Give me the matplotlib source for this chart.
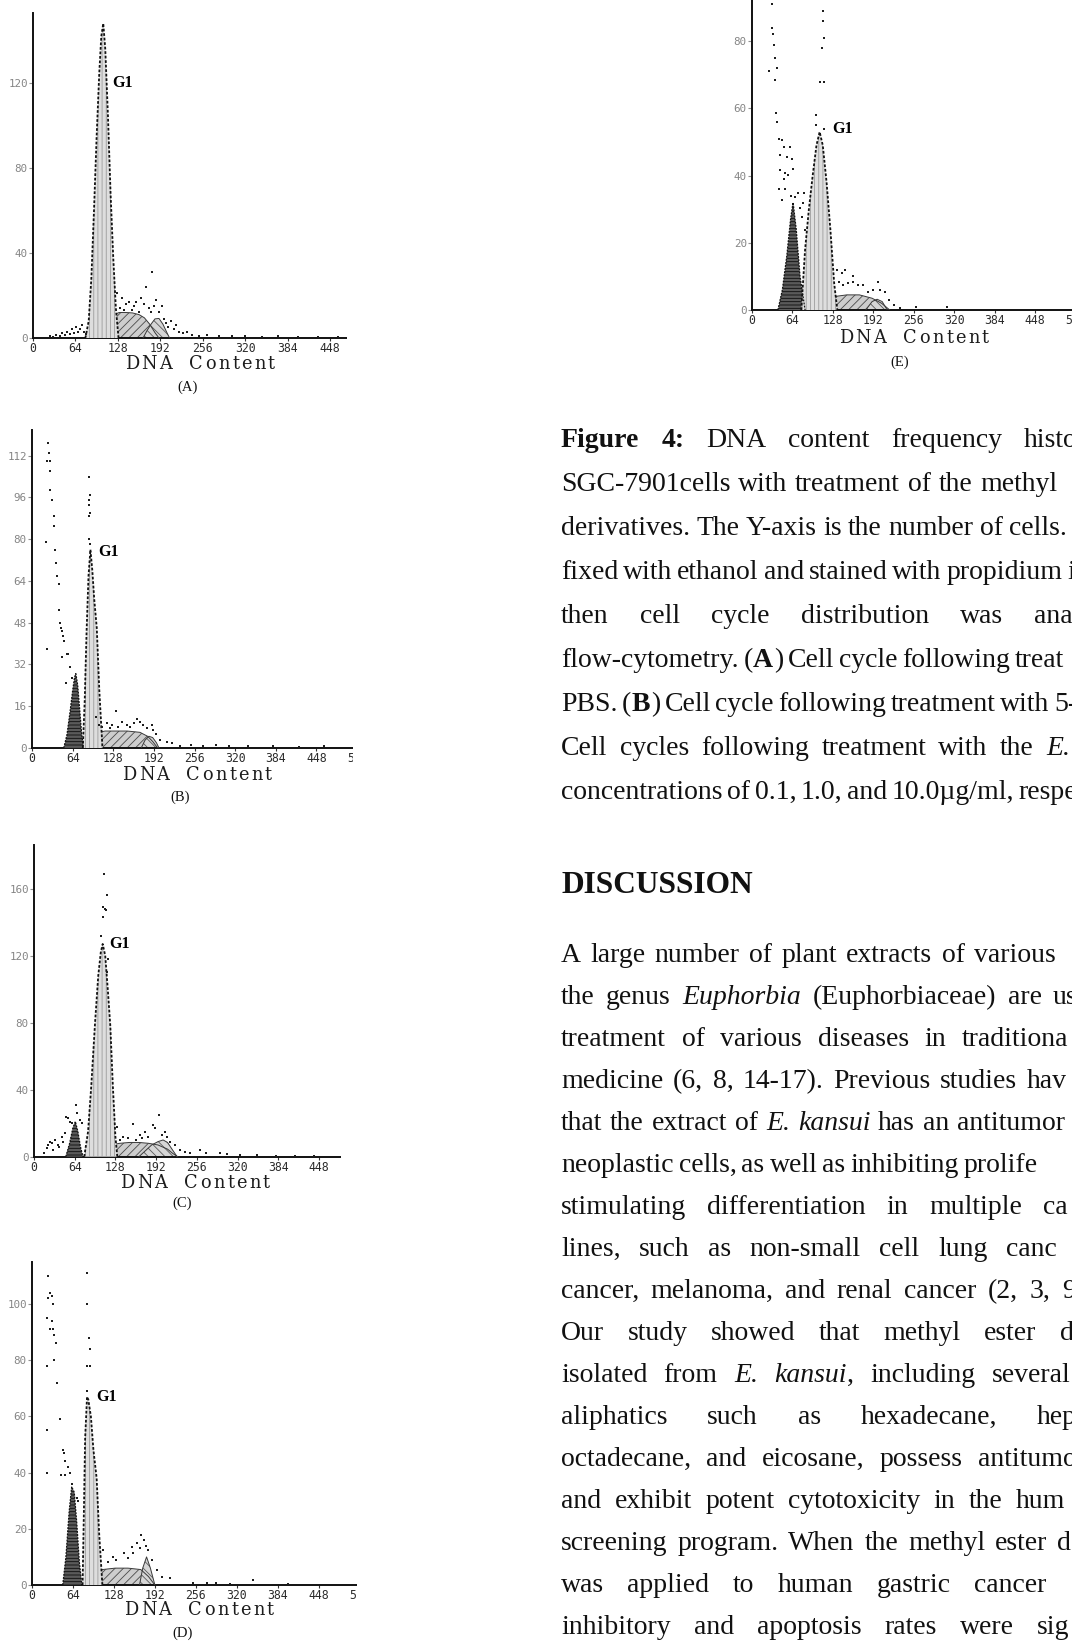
import re
import matplotlib
matplotlib.use("Agg")
import matplotlib.pyplot as plt
from matplotlib.patches import Rectangle

W, H = 1072, 1642

# ---------------- values ----------------
x_ticks = [0, 64, 128, 192, 256, 320, 384, 448, 512]

# (A) PBS control
yticks_A = [0, 40, 80, 120]
g1_x_A = [79, 84, 88, 92, 96, 100, 103, 106, 109, 113, 117, 121, 125, 129]
g1_y_A = [0, 8, 28, 60, 95, 125, 142, 148, 136, 105, 68, 38, 14, 0]
s_x_A = [98, 106, 114, 122, 130, 140, 150, 160, 168, 176, 184, 190]
s_y_A = [0, 4, 8.5, 11, 12, 12, 11.8, 11, 9.5, 6.5, 2.5, 0]
g2_x_A = [166, 172, 178, 184, 190, 196, 202, 206]
g2_y_A = [0, 3.5, 6.5, 9, 9.2, 6.5, 2.5, 0]
dots_A = [(26, 1), (30, 0.5), (35, 1.5), (40, 1), (44, 2.5), (48, 1.5), (52, 3), (56, 2),
          (59, 4), (62, 2.5), (65, 5), (68, 3), (71, 4), (74, 6), (77, 3), (80, 2),
          (127, 21), (131, 14), (134, 19), (138, 13), (141, 16), (145, 17), (149, 13),
          (152, 15), (156, 17), (160, 12), (163, 19), (167, 16), (171, 24), (175, 14),
          (178, 12), (180, 31), (183, 15), (186, 18), (190, 12), (194, 15), (197, 9),
          (200, 7), (204, 5), (208, 8), (212, 4), (216, 6), (220, 3), (226, 2.5), (232, 3),
          (240, 1.5), (250, 1), (262, 1.5), (280, 0.8), (300, 1), (320, 0.8), (345, 0.6),
          (370, 0.8), (400, 0.5), (430, 0.7), (460, 0.5), (490, 0.6)]

# (B) 5-FU
yticks_B = [0, 16, 32, 48, 64, 80, 96, 112]
apo_x_B = [50, 55, 60, 64, 67, 69, 72, 75, 78, 81]
apo_y_B = [0, 5, 14, 22, 27, 28.5, 24, 15, 6, 0]
g1_x_B = [80, 83, 86, 89, 92, 95, 98, 102, 106, 111]
g1_y_B = [0, 18, 45, 66, 76, 68, 57, 46, 22, 0]
s_x_B = [90, 98, 106, 115, 130, 150, 170, 182, 190, 198]
s_y_B = [0, 4, 6, 6.5, 6.5, 6.5, 6, 4.5, 2.5, 0]
g2_x_B = [172, 178, 184, 190, 196, 200]
g2_y_B = [0, 3, 4.5, 4, 2, 0]
dots_B = [(25, 117), (27, 113), (24, 110), (28, 110), (28, 106), (29, 99), (31, 95), (34, 89),
          (35, 85), (22, 79), (36, 76), (38, 71), (40, 66), (42, 63), (43, 53), (44, 48),
          (45, 46), (47, 45), (49, 43), (50, 41), (48, 35), (55, 36), (57, 36), (23, 38),
          (60, 31), (63, 27), (53, 25),
          (90, 104), (89, 95), (91, 97), (89, 93), (92, 90), (90, 89), (90, 80), (91, 78),
          (100, 12), (105, 9), (110, 8), (118, 9.5), (123, 7.5), (126, 9), (132, 14), (136, 8),
          (142, 10), (149, 9), (155, 8), (160, 9.5), (165, 11), (170, 10), (175, 9), (181, 7.5),
          (189, 9), (191, 7), (196, 5.5), (202, 3), (212, 2.4), (220, 1.8), (233, 0.6),
          (250, 1), (270, 0.8), (290, 1), (310, 0.6), (340, 0.8), (380, 0.6), (420, 0.5),
          (460, 0.6)]

# (C) 0.1 ug/ml
yticks_C = [0, 40, 80, 120, 160]
apo_x_C = [50, 56, 61, 65, 69, 73, 77]
apo_y_C = [0, 8, 17, 21, 15, 6, 0]
g1_x_C = [79, 85, 90, 96, 101, 105, 108, 112, 116, 120, 124, 128, 131]
g1_y_C = [0, 15, 42, 80, 108, 122, 127, 120, 100, 78, 42, 12, 0]
s_x_C = [90, 100, 110, 120, 135, 150, 165, 180, 195, 210, 218, 226]
s_y_C = [0, 3, 5.5, 7, 8, 8.5, 8.5, 8, 7, 4.5, 2, 0]
g2_x_C = [165, 175, 185, 195, 203, 210, 217, 225]
g2_y_C = [0, 3.5, 7, 9, 10, 8.5, 4.5, 0]
dots_C = [(15, 2), (20, 5), (22.5, 7), (25, 9), (28, 8), (30, 4), (33, 10), (37, 7), (40, 6),
          (43.5, 12), (46, 9), (49, 14), (51, 24), (54, 23), (57, 21), (59, 20), (66, 31),
          (68, 26), (72, 22), (75, 20),
          (110.6, 169), (114, 156), (109, 149), (111.6, 148), (109, 143), (113, 147),
          (105, 132), (114, 110), (117, 118),
          (130, 18), (135, 10), (140, 12), (148, 11), (156, 19.5), (160, 10), (167, 13),
          (170, 11), (174.5, 15), (180, 12), (187.6, 19), (190, 17), (197, 25), (201, 13),
          (206, 15), (209, 12), (214, 9), (222, 7), (230, 4), (237, 3), (245, 2.4), (261, 4),
          (271, 2), (292, 2), (303, 1.4), (324, 1), (350, 0.8), (380, 0.6), (410, 0.7),
          (440, 0.5)]

# (D) 1.0 ug/ml
yticks_D = [0, 20, 40, 60, 80, 100]
apo_x_D = [48, 53, 58, 62, 66, 70, 74, 78]
apo_y_D = [0, 10, 26, 35, 33, 22, 8, 0]
g1_x_D = [79, 81, 83, 86, 88, 92, 96, 101, 105, 110]
g1_y_D = [0, 25, 52, 67, 66, 60, 48, 38, 18, 0]
s_x_D = [84, 95, 110, 130, 150, 170, 182, 192]
s_y_D = [0, 4, 5.5, 6, 6, 5.5, 3, 0]
g2_x_D = [168, 173, 179, 185, 192]
g2_y_D = [0, 6, 10, 6, 0]
dots_D = [(25.5, 110), (28, 104), (25.5, 102), (31, 103), (33, 100), (24, 95), (31, 94),
          (28, 91), (33, 91), (34, 89), (37.5, 86), (34, 80), (24, 78), (39.6, 72), (43, 59),
          (24, 55), (48, 48), (50, 47), (51.6, 44), (57, 42), (59, 40), (45, 39), (24, 40),
          (52, 39), (62, 36), (70, 31), (72, 30),
          (86.5, 111), (85.4, 100), (89, 88), (90.6, 84), (85.4, 78), (90.6, 78), (85.4, 69),
          (111.5, 12.5), (119, 8.3), (127, 10), (132, 9), (143, 11.3), (150.5, 9.5),
          (156, 13.6), (158, 11.3), (163.5, 14.8), (168, 13), (171, 17.8), (175, 16),
          (178, 14), (182, 12.5), (187, 9), (195, 5.3), (203, 3), (216, 2.4), (252, 0.6),
          (273, 0.6), (288, 0.6), (310, 0.5), (346, 1.8), (400, 0.5)]

# (E) 10.0 ug/ml
yticks_E = [0, 20, 40, 60, 80]
apo_x_E = [41, 48, 55, 61, 65, 70, 76, 84]
apo_y_E = [0, 6, 16, 27, 32, 24, 10, 0]
g1_x_E = [78, 84, 90, 96, 102, 107, 112, 118, 124, 130, 135]
g1_y_E = [0, 18, 30, 40, 49, 53, 49, 38, 24, 8, 0]
s_x_E = [90, 110, 130, 150, 170, 190, 205, 218]
s_y_E = [0, 2.5, 4, 4.5, 4.5, 3.5, 2, 0]
g2_x_E = [180, 190, 198, 206, 214]
g2_y_E = [0, 2.5, 3.2, 2.5, 0]
dots_E = [(31, 91), (32, 84), (34, 82), (35, 79), (36, 75), (39, 72), (27, 71), (36, 68.5),
          (38, 58.5), (39, 56), (42, 51), (47, 50.6), (50, 48.6), (60, 48.6), (44, 46),
          (55, 45.6), (63, 45), (44, 41.7), (52, 40.7), (57.5, 40.2), (65, 42), (50, 39),
          (43, 36), (52, 36), (61, 34), (47, 32.7), (68, 33.7), (73, 34.7), (81, 31.7),
          (76, 30.3), (78.5, 27.8), (84, 23.8), (82, 34.7),
          (113, 89), (113, 86), (114, 81), (110, 78), (107.6, 68), (114, 68), (102, 58),
          (102, 55), (114, 54),
          (134, 12), (142, 11), (147, 12), (137, 8.4), (144.5, 7.4), (152, 8), (160, 8.4),
          (168, 7.4), (176, 7.4), (160, 10), (184, 5.5), (192, 6), (200, 8.4), (202.5, 6),
          (210, 5.5), (216, 3), (224, 1.5), (234, 0.5), (260, 0.8), (308, 1)]

# page text (markup: **bold**, *italic*)
caption_lines = [
    "**Figure** **4:** DNA content frequency histo",
    "SGC-7901cells with treatment of the methyl",
    "derivatives. The Y-axis is the number of cells.",
    "fixed with ethanol and stained with propidium i",
    "then cell cycle distribution was ana",
    "flow-cytometry. (**A**) Cell cycle following treat",
    "PBS. (**B**) Cell cycle following treatment with 5-",
    "Cell cycles following treatment with the *E.*",
    "concentrations of 0.1, 1.0, and 10.0\u00b5g/ml, respe",
]
discussion_lines = [
    "A large number of plant extracts of various",
    "the genus *Euphorbia* (Euphorbiaceae) are us",
    "treatment of various diseases in traditiona",
    "medicine (6, 8, 14-17). Previous studies hav",
    "that the extract of *E.* *kansui* has an antitumor",
    "neoplastic cells, as well as inhibiting prolife",
    "stimulating differentiation in multiple ca",
    "lines, such as non-small cell lung canc",
    "cancer, melanoma, and renal cancer (2, 3, 9",
    "Our study showed that methyl ester d",
    "isolated from *E.* *kansui*, including several",
    "aliphatics such as hexadecane, hep",
    "octadecane, and eicosane, possess antitumo",
    "and exhibit potent cytotoxicity in the hum",
    "screening program. When the methyl ester d",
    "was applied to human gastric cancer",
    "inhibitory and apoptosis rates were sig",
]

# ---------------- layout (pixels in the 1072 x 1642 page) ----------------
caption_last_x = [1024, 980, 1009, 1067, 1034, 1015, 1048, 1046, 1015]
discussion_last_x = [974, 1053, 962, 1027, 957, 964, 1043, 1006, 1062, 1060, 992, 1037,
                     978, 1016, 1057, 974, 1037]
TEXT_X = 561
CAPTION_Y0, CAPTION_DY = 447, 44.0
PARA_Y0, PARA_DY = 962, 42.0
BODY_SIZE = 20.0

fig = plt.figure(figsize=(W / 100, H / 100), dpi=100)
fig.patch.set_facecolor("white")
plt.rcParams["hatch.linewidth"] = 0.6
R = fig.canvas.get_renderer()


def fy(y):
    return 1 - y / H


def text_line(y, line, last_x, size=BODY_SIZE):
    words = []
    for w in line.split(" "):
        segs = []
        for seg in re.split(r"(\*\*[^*]+\*\*|\*[^*]+\*)", w):
            if not seg:
                continue
            kw = {}
            if seg.startswith("**"):
                kw["fontweight"] = "bold"
                seg = seg[2:-2]
            elif seg.startswith("*"):
                kw["fontstyle"] = "italic"
                seg = seg[1:-1]
            t = fig.text(0, fy(y), seg, fontsize=size, family="Liberation Serif",
                         va="baseline", color="#111111", **kw)
            segs.append((t, t.get_window_extent(R).width))
        words.append(segs)
    used = sum(w + 0.5 for segs in words[:-1] for _, w in segs)
    gap = (last_x - TEXT_X - used) / max(len(words) - 1, 1)
    gap = max(gap, 4)
    x = TEXT_X
    for segs in words:
        for t, w in segs:
            t.set_x(x / W)
            x += w + 0.5
        x += gap


def tracked(cx, base_y, text, total, size, gap_word=15):
    words = text.split()
    arts = []
    for w in words:
        row = []
        for ch in w:
            t = fig.text(0, fy(base_y), ch, fontsize=size, family="DejaVu Serif",
                         va="baseline", color="#1c1c1c")
            row.append((t, t.get_window_extent(R).width))
        arts.append(row)
    nchar = sum(len(w) for w in words)
    natural = sum(w for row in arts for _, w in row)
    track = (total - natural - gap_word * (len(words) - 1)) / (nchar - len(words))
    x = cx - total / 2
    for row in arts:
        for t, w in row:
            t.set_x(x / W)
            x += w + track
        x += gap_word - track


def histogram(geom, yticks, g1x, g1y, sx, sy, g2x, g2y, apox, apoy, dots, g1_at):
    x0, x_per, base, y_per, top = geom
    xmax = 524
    right = x0 + x_per * xmax
    ax = fig.add_axes([x0 / W, 1 - base / H, (right - x0) / W, (base - top) / H])
    ax.set_xlim(0, xmax)
    ax.set_ylim(0, (base - top) / y_per)
    ax.patch.set_alpha(0)
    for side in ("top", "right"):
        ax.spines[side].set_visible(False)
    for side in ("left", "bottom"):
        ax.spines[side].set_linewidth(1.4)
        ax.spines[side].set_color("#111111")
    ax.set_xticks(x_ticks, labels=[str(v) for v in x_ticks], fontfamily="DejaVu Sans Mono",
                  fontsize=8.3, color="#2b2b2b")
    ax.set_yticks(yticks, labels=[str(v) for v in yticks], fontfamily="DejaVu Sans Mono",
                  fontsize=7.8, color="#858585")
    ax.tick_params(axis="x", length=2, width=0.8, pad=1.0, color="#333333")
    ax.tick_params(axis="y", length=3, width=0.8, pad=0.8, color="#909090")

    ax.fill_between(sx, sy, facecolor="#cdcdcd", edgecolor="#4a4a4a", hatch="////",
                    linewidth=0, zorder=2)
    ax.plot(sx, sy, color="#3a3a3a", lw=0.7, zorder=3)
    ax.fill_between(g2x, g2y, facecolor="#d6d6d6", edgecolor="#5a5a5a", hatch="\\\\\\\\",
                    linewidth=0, zorder=2)
    ax.plot(g2x, g2y, color="#3a3a3a", lw=0.7, zorder=3)
    if apox:
        ax.fill_between(apox, apoy, facecolor="#5a5a5a", edgecolor="#0d0d0d", hatch="-----",
                        linewidth=0, zorder=3)
        ax.plot(apox, apoy, color="#111111", lw=0.9, ls=(0, (1.5, 1)), zorder=4)
    ax.fill_between(g1x, g1y, facecolor="#dedede", edgecolor="#9c9c9c", hatch="||||",
                    linewidth=0, zorder=3)
    ax.plot(g1x, g1y, color="#111111", lw=1.3, ls=(0, (1.5, 1)), zorder=4)
    ax.scatter([d[0] for d in dots], [d[1] for d in dots], s=4, marker="s",
               color="#1e1e1e", linewidths=0, zorder=5, clip_on=False)
    ax.text(g1_at[0], g1_at[1], "G1", fontsize=11.5, fontweight="bold",
            family="Liberation Serif", va="center", ha="left", zorder=6)
    return ax


# left column, top to bottom, then (E) at the top right
histogram((33, 0.663, 338, 2.125, 13), yticks_A, g1_x_A, g1_y_A, s_x_A, s_y_A,
          g2_x_A, g2_y_A, None, None, dots_A, (119, 120))
histogram((32, 0.635, 748, 2.61, 430), yticks_B, g1_x_B, g1_y_B, s_x_B, s_y_B,
          g2_x_B, g2_y_B, apo_x_B, apo_y_B, dots_B, (104, 75))
histogram((34, 0.636, 1156.7, 1.675, 845), yticks_C, g1_x_C, g1_y_C, s_x_C, s_y_C,
          g2_x_C, g2_y_C, apo_x_C, apo_y_C, dots_C, (118, 127))
histogram((32, 0.64, 1585, 2.81, 1262), yticks_D, g1_x_D, g1_y_D, s_x_D, s_y_D,
          g2_x_D, g2_y_D, apo_x_D, apo_y_D, dots_D, (100, 67))
histogram((752, 0.632, 310, 3.36, 0), yticks_E, g1_x_E, g1_y_E, s_x_E, s_y_E,
          g2_x_E, g2_y_E, apo_x_E, apo_y_E, dots_E, (127, 54))

# the scanned left panels are cut off on their right side
for crop, top, bottom, stop in [(347, 0, 400, 700), (353, 400, 820, 556),
                                (341, 820, 1230, 556), (357, 1230, H, 556)]:
    fig.add_artist(Rectangle((crop / W, fy(bottom)), (stop - crop) / W, (bottom - top) / H,
                             transform=fig.transFigure, facecolor="white",
                             edgecolor="none", zorder=5))

# axis titles and panel letters
for cx, cy in [(200, 363), (197, 774), (195, 1182), (199, 1609), (914, 337)]:
    tracked(cx, cy + 6, "DNA Content", 150, 12.8, gap_word=17)
for letter, cx, cy in [("(A)", 188, 387), ("(B)", 180, 797), ("(C)", 182, 1203),
                       ("(D)", 183, 1633), ("(E)", 900, 362)]:
    fig.text(cx / W, fy(cy), letter, ha="center", va="center", fontsize=10.5,
             family="Liberation Serif", color="#111111")

# caption and discussion text
for i, (line, lx) in enumerate(zip(caption_lines, caption_last_x)):
    text_line(CAPTION_Y0 + i * CAPTION_DY, line, lx)
fig.text(TEXT_X / W, fy(893), "DISCUSSION", fontsize=22.6, fontweight="bold",
         family="Liberation Serif", va="baseline", color="#111111")
for i, (line, lx) in enumerate(zip(discussion_lines, discussion_last_x)):
    text_line(PARA_Y0 + i * PARA_DY, line, lx)

fig.savefig("out.png", dpi=100, facecolor="white")
